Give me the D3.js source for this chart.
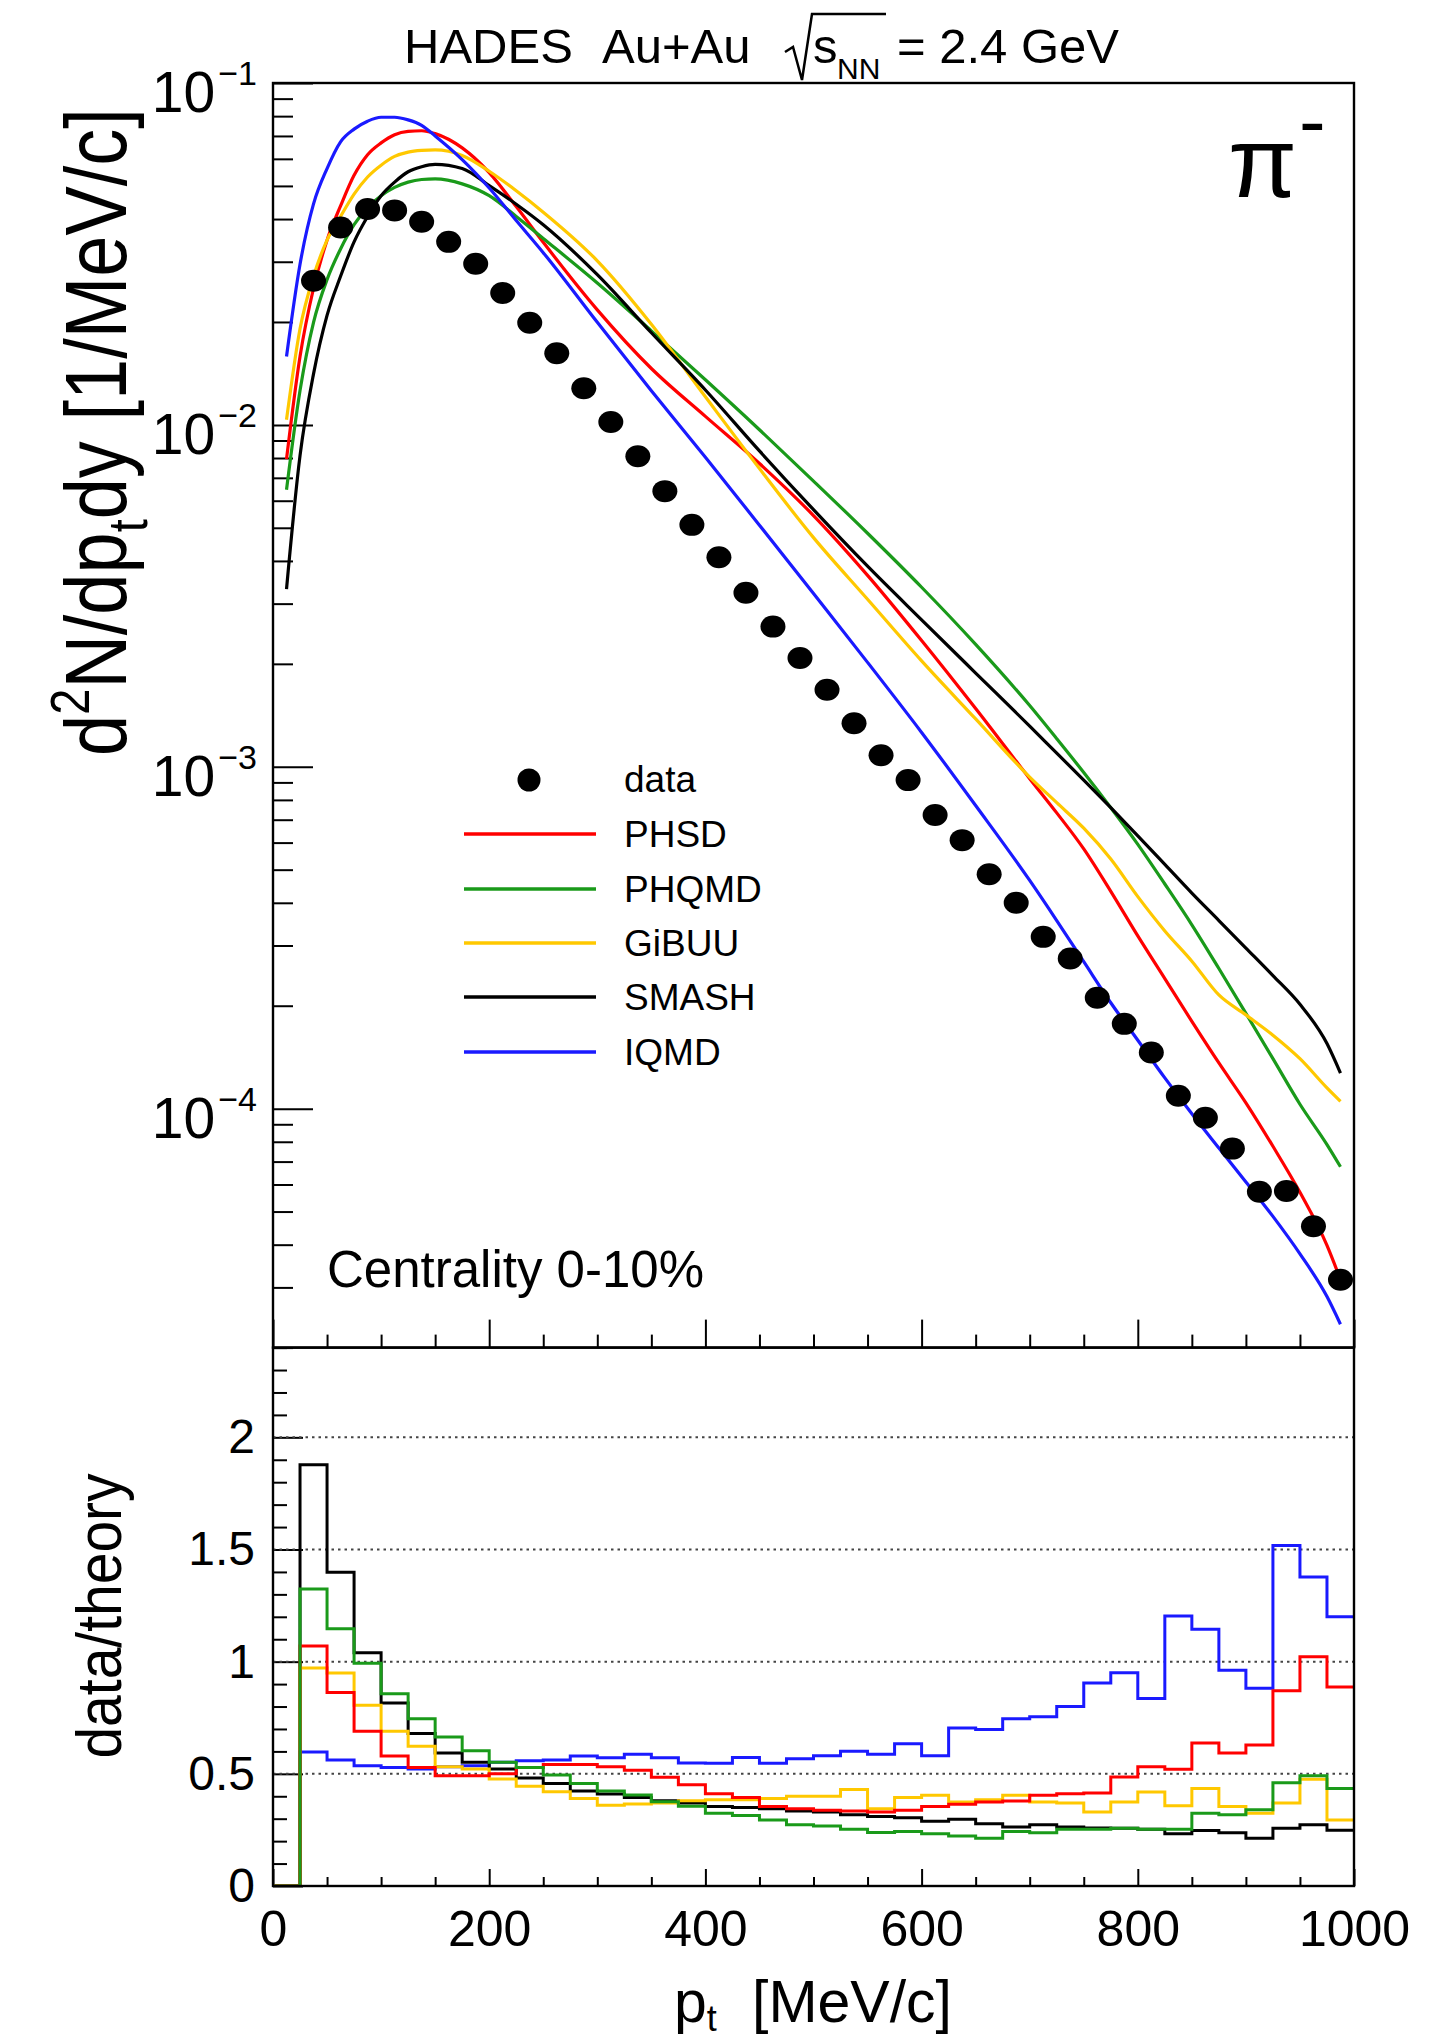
<!DOCTYPE html>
<html><head><meta charset="utf-8">
<script src="https://cdn.jsdelivr.net/npm/d3@7"></script>
<style>
html,body{margin:0;padding:0;background:#fff;}
svg{display:block;}
text{font-family:"Liberation Sans",Arial,Helvetica,sans-serif;fill:#000;}
</style></head><body>
<svg id="c" width="1441" height="2040"></svg>
<script>
// ---------------- data ----------------
const dataPt = [37.5,62.5,87.5,112.5,137.5,162.5,187.5,212.5,237.5,262.5,287.5,312.5,337.5,362.5,387.5,412.5,437.5,462.5,487.5,512.5,537.5,562.5,587.5,612.5,637.5,662.5,687.5,712.5,737.5,762.5,787.5,812.5,837.5,862.5,887.5,912.5,937.5,962.5,987.5];
const dataVal = [0.0264,0.0378,0.0428,0.0424,0.0393,0.0343,0.0296,0.0243,0.0199,0.0162,0.0128,0.0102,0.0081,0.0064,0.0051,0.0041,0.00323,0.00257,0.00208,0.00168,0.00134,0.00108,0.000914,0.000723,0.00061,0.000485,0.0004,0.000318,0.000275,0.000211,0.000177,0.000146,0.000109,0.000094,0.0000764,0.0000571,0.0000574,0.0000453,0.0000316];

const modelPt = [12.5,25,37.5,50,62.5,75,87.5,100,112.5,125,137.5,150,175,200,225,250,300,350,400,450,500,550,600,650,700,725,750,775,800,825,850,875,900,925,950,975,987.5];
const phsd  = [0.00794,0.01585,0.0251,0.0347,0.0437,0.0537,0.0617,0.0668,0.0706,0.0722,0.0725,0.0711,0.0646,0.0547,0.0435,0.0342,0.0217,0.01462,0.01059,0.00771,0.00543,0.00363,0.00234,0.00148,0.000923,0.000733,0.000575,0.000432,0.00032,0.00024,0.00018,0.000136,0.000104,0.0000776,0.0000569,0.0000398,0.0000316];
const phqmd = [0.00646,0.0126,0.01995,0.0266,0.0327,0.0385,0.0432,0.0468,0.0495,0.0513,0.0522,0.0524,0.0507,0.0468,0.0407,0.0351,0.026,0.01884,0.01355,0.00968,0.00685,0.00482,0.00335,0.00228,0.00151,0.001208,0.000962,0.000759,0.000593,0.000454,0.000345,0.000257,0.00019,0.00014,0.000103,0.0000785,0.0000676];
const gibuu = [0.01035,0.0191,0.0272,0.0347,0.0407,0.0473,0.0531,0.0575,0.061,0.0628,0.0635,0.0637,0.0614,0.0552,0.0484,0.0419,0.0302,0.0197,0.01208,0.00745,0.00468,0.00309,0.00204,0.00138,0.000933,0.000785,0.000661,0.000537,0.000417,0.000331,0.00027,0.000215,0.000188,0.000164,0.00014,0.000115,0.000105];
const smash = [0.00331,0.00813,0.0141,0.0209,0.0272,0.0343,0.0407,0.0468,0.0513,0.055,0.0569,0.0578,0.0562,0.0501,0.0442,0.0385,0.0275,0.0186,0.01265,0.00839,0.00565,0.00386,0.00269,0.00188,0.001315,0.001096,0.000914,0.000759,0.000628,0.000518,0.000427,0.000355,0.000295,0.000245,0.000202,0.000155,0.000127];
const iqmd  = [0.01585,0.0295,0.0443,0.0562,0.0673,0.0733,0.0773,0.0794,0.0794,0.078,0.0752,0.07,0.0597,0.0493,0.0396,0.0319,0.01995,0.01259,0.00804,0.00509,0.00321,0.00202,0.00126,0.00077,0.000465,0.000355,0.000269,0.000204,0.0001585,0.000123,0.0000966,0.0000767,0.000061,0.0000484,0.0000376,0.0000282,0.0000234];

// ratio histograms: 40 bins of 25 MeV/c, low edges
const binLow = [0,25,50,75,100,125,150,175,200,225,250,275,300,325,350,375,400,425,450,475,500,525,550,575,600,625,650,675,700,725,750,775,800,825,850,875,900,925,950,975];
const rPHSD  = [0,1.070,0.863,0.690,0.579,0.528,0.491,0.491,0.500,0.528,0.542,0.542,0.532,0.516,0.485,0.451,0.411,0.395,0.354,0.344,0.338,0.334,0.330,0.338,0.354,0.364,0.374,0.379,0.405,0.411,0.415,0.486,0.532,0.520,0.638,0.593,0.628,0.870,1.022,0.887];
const rPHQMD = [0,1.324,1.147,0.993,0.857,0.745,0.664,0.603,0.552,0.528,0.495,0.457,0.424,0.406,0.376,0.355,0.324,0.314,0.294,0.273,0.267,0.253,0.239,0.243,0.233,0.223,0.213,0.243,0.237,0.253,0.253,0.257,0.253,0.253,0.324,0.318,0.340,0.460,0.492,0.435];
const rGiBUU = [0,0.972,0.950,0.806,0.690,0.623,0.532,0.522,0.477,0.445,0.420,0.390,0.360,0.365,0.370,0.380,0.385,0.385,0.390,0.400,0.400,0.430,0.344,0.395,0.405,0.374,0.385,0.405,0.374,0.370,0.330,0.374,0.419,0.358,0.435,0.354,0.324,0.370,0.476,0.294];
const rSMASH = [0,1.878,1.399,1.040,0.816,0.680,0.593,0.552,0.522,0.481,0.457,0.424,0.410,0.394,0.380,0.370,0.354,0.350,0.344,0.334,0.330,0.318,0.310,0.304,0.289,0.298,0.277,0.263,0.273,0.263,0.259,0.257,0.253,0.233,0.247,0.237,0.213,0.257,0.273,0.249];
const rIQMD  = [0,0.597,0.562,0.536,0.528,0.522,0.532,0.536,0.552,0.558,0.562,0.579,0.572,0.587,0.572,0.548,0.547,0.573,0.547,0.567,0.581,0.601,0.587,0.634,0.581,0.704,0.698,0.745,0.755,0.800,0.905,0.951,0.836,1.204,1.144,0.962,0.881,1.518,1.377,1.200];

const modelNames = ["PHSD","PHQMD","GiBUU","SMASH","IQMD"];
const modelColors = ["#ff0000","#1a9a1a","#ffc800","#000000","#1a1aff"];

const xMajor = [0,200,400,600,800,1000];
const xMajorLabels = ["0","200","400","600","800","1000"];
const yTopMajor = [1e-4,1e-3,1e-2,1e-1];
const yTopExp = ["\u22124","\u22123","\u22122","\u22121"];
const yBotMajor = [0,0.5,1,1.5,2];
const yBotLabels = ["0","0.5","1","1.5","2"];

// ---------------- layout ----------------
const svg = d3.select("#c");
const L=273, R=1354, T=83, S=1347.6, B=1886;
const x  = d3.scaleLinear().domain([0,1000]).range([L,R]);
const yT = d3.scaleLog().domain([2e-5,0.1]).range([S,T]);
const yB = d3.scaleLinear().domain([0,2.4]).range([B,S]);

const defs = svg.append("defs");
defs.append("clipPath").attr("id","cT").append("rect").attr("x",L).attr("y",T).attr("width",R-L).attr("height",S-T);
defs.append("clipPath").attr("id","cB").append("rect").attr("x",L).attr("y",S).attr("width",R-L).attr("height",B-S);

function styleAxis(g){ g.select(".domain").remove(); g.selectAll(".tick line").attr("stroke","#000").attr("stroke-width",2); }

const yTopMinor=[]; [1e-5,1e-4,1e-3,1e-2].forEach(d=>{for(let k=2;k<=9;k++){const v=k*d; if(v>=2e-5&&v<=0.1) yTopMinor.push(v);}});
const xMinor=[]; for(let v=0;v<=1000;v+=50) if(v%200!==0) xMinor.push(v);
const yBotMinor=[]; for(let i=0;i<=24;i++) if(i%5!==0) yBotMinor.push(i/10);

// ---- upper panel axes ----
svg.append("g").attr("transform",`translate(${L},0)`).call(d3.axisLeft(yT).tickValues(yTopMajor).tickSize(-40).tickFormat(()=>"")).call(styleAxis);
svg.append("g").attr("transform",`translate(${L},0)`).call(d3.axisLeft(yT).tickValues(yTopMinor).tickSize(-20).tickFormat(()=>"")).call(styleAxis);
svg.append("g").attr("transform",`translate(0,${S})`).call(d3.axisBottom(x).tickValues(xMajor).tickSize(-28).tickFormat(()=>"")).call(styleAxis);
svg.append("g").attr("transform",`translate(0,${S})`).call(d3.axisBottom(x).tickValues(xMinor).tickSize(-13).tickFormat(()=>"")).call(styleAxis);

yTopMajor.forEach((v,i)=>{
  const t = svg.append("text").attr("x",257).attr("y",yT(v)+29).attr("text-anchor","end").attr("font-size",57);
  t.append("tspan").text("10");
  t.append("tspan").attr("font-size",34).attr("dx",3).attr("dy",-27).text(yTopExp[i]);
});

// ---- lower panel axes ----
const gl = svg.append("g").attr("transform",`translate(${L},0)`).call(d3.axisLeft(yB).tickValues(yBotMajor).tickSize(-30).tickPadding(18).tickFormat((d,i)=>yBotLabels[i])).call(styleAxis);
gl.selectAll("text").attr("font-size",48).attr("font-family","Liberation Sans, Arial, sans-serif").attr("fill","#000");
svg.append("g").attr("transform",`translate(${L},0)`).call(d3.axisLeft(yB).tickValues(yBotMinor).tickSize(-14).tickFormat(()=>"")).call(styleAxis);
const gb = svg.append("g").attr("transform",`translate(0,${B})`).call(d3.axisBottom(x).tickValues(xMajor).tickSize(-17).tickPadding(24).tickFormat((d,i)=>xMajorLabels[i])).call(styleAxis);
gb.selectAll("text").attr("font-size",50).attr("font-family","Liberation Sans, Arial, sans-serif").attr("fill","#000");
svg.append("g").attr("transform",`translate(0,${B})`).call(d3.axisBottom(x).tickValues(xMinor).tickSize(-9).tickFormat(()=>"")).call(styleAxis);

svg.append("g").selectAll("line").data([0.5,1,1.5,2]).join("line")
  .attr("x1",L).attr("x2",R).attr("y1",d=>yB(d)).attr("y2",d=>yB(d))
  .attr("stroke","#444").attr("stroke-width",2).attr("stroke-dasharray","2.5,4");

// ---- histograms ----
const hist = d3.line().x(d=>x(d[0])).y(d=>yB(d[1])).curve(d3.curveStepAfter);
const ratios = [rIQMD, rSMASH, rGiBUU, rPHSD, rPHQMD];
const rCols = [modelColors[4], modelColors[3], modelColors[2], modelColors[0], modelColors[1]];
const gh = svg.append("g").attr("clip-path","url(#cB)");
ratios.forEach((r,k)=>{
  const pts = binLow.map((b,i)=>[b,r[i]]).concat([[1000,r[r.length-1]]]);
  gh.append("path").attr("d",hist(pts)).attr("fill","none").attr("stroke",rCols[k]).attr("stroke-width",3);
});

// ---- curves ----
const line = d3.line().x(d=>x(d[0])).y(d=>yT(d[1])).curve(d3.curveMonotoneX);
const models = [phsd, phqmd, gibuu, smash, iqmd];
const gc = svg.append("g").attr("clip-path","url(#cT)");
models.forEach((m,k)=>{
  gc.append("path").attr("d",line(modelPt.map((p,i)=>[p,m[i]]))).attr("fill","none").attr("stroke",modelColors[k]).attr("stroke-width",3.2);
});

svg.append("g").selectAll("ellipse").data(dataPt.map((p,i)=>[p,dataVal[i]])).join("ellipse")
  .attr("cx",d=>x(d[0])).attr("cy",d=>yT(d[1])).attr("rx",12.5).attr("ry",11).attr("fill","#000");

svg.append("rect").attr("x",L).attr("y",T).attr("width",R-L).attr("height",S-T).attr("fill","none").attr("stroke","#000").attr("stroke-width",2.4);
svg.append("rect").attr("x",L).attr("y",S).attr("width",R-L).attr("height",B-S).attr("fill","none").attr("stroke","#000").attr("stroke-width",2.4);

// ---- legend ----
const legY = [780,834,889,943,997,1052];
svg.append("ellipse").attr("cx",529).attr("cy",legY[0]).attr("rx",11.5).attr("ry",11.5).attr("fill","#000");
svg.append("text").attr("x",624).attr("y",legY[0]+12).attr("font-size",37).text("data");
modelNames.forEach((n,i)=>{
  svg.append("line").attr("x1",464).attr("x2",596).attr("y1",legY[i+1]).attr("y2",legY[i+1]).attr("stroke",modelColors[i]).attr("stroke-width",3.5);
  svg.append("text").attr("x",624).attr("y",legY[i+1]+13).attr("font-size",37).text(n);
});

// ---- texts ----
svg.append("text").attr("x",404).attr("y",63).attr("font-size",49).text("HADES");
svg.append("text").attr("x",602).attr("y",63).attr("font-size",49).text("Au+Au");
svg.append("path").attr("d","M785,52 L793,47 L802,80 L812,14 L886,14").attr("fill","none").attr("stroke","#000").attr("stroke-width",2.5);
svg.append("text").attr("x",813).attr("y",63).attr("font-size",49).text("s");
svg.append("text").attr("x",837).attr("y",79).attr("font-size",30).text("NN");
svg.append("text").attr("x",897).attr("y",63).attr("font-size",49).text("= 2.4 GeV");

const pi = svg.append("text").attr("x",1228).attr("y",197).attr("font-size",100).attr("font-family","Liberation Serif, Times New Roman, serif");
pi.append("tspan").text("\u03c0");
pi.append("tspan").attr("font-size",80).attr("dx",2).attr("dy",-49).text("-");

svg.append("text").attr("x",327).attr("y",1287).attr("font-size",51).text("Centrality 0-10%");

const yt = svg.append("text").attr("transform","translate(126,432) scale(1.18,1) rotate(-90)").attr("text-anchor","middle").attr("font-size",74);
yt.append("tspan").text("d");
yt.append("tspan").attr("font-size",47).attr("dy",-31).text("2");
yt.append("tspan").attr("dy",31).text("N/dp");
yt.append("tspan").attr("font-size",47).attr("dy",18).text("t");
yt.append("tspan").attr("dy",-18).text("dy [1/MeV/c]");

svg.append("text").attr("transform","translate(121,1616) scale(1.1,1) rotate(-90)").attr("text-anchor","middle").attr("font-size",57).text("data/theory");

const xt = svg.append("text").attr("x",674).attr("y",2022).attr("font-size",59);
xt.append("tspan").text("p");
xt.append("tspan").attr("font-size",36).attr("dy",9).text("t");
xt.append("tspan").attr("x",752).attr("dy",-9).text("[MeV/c]");
</script></body></html>
